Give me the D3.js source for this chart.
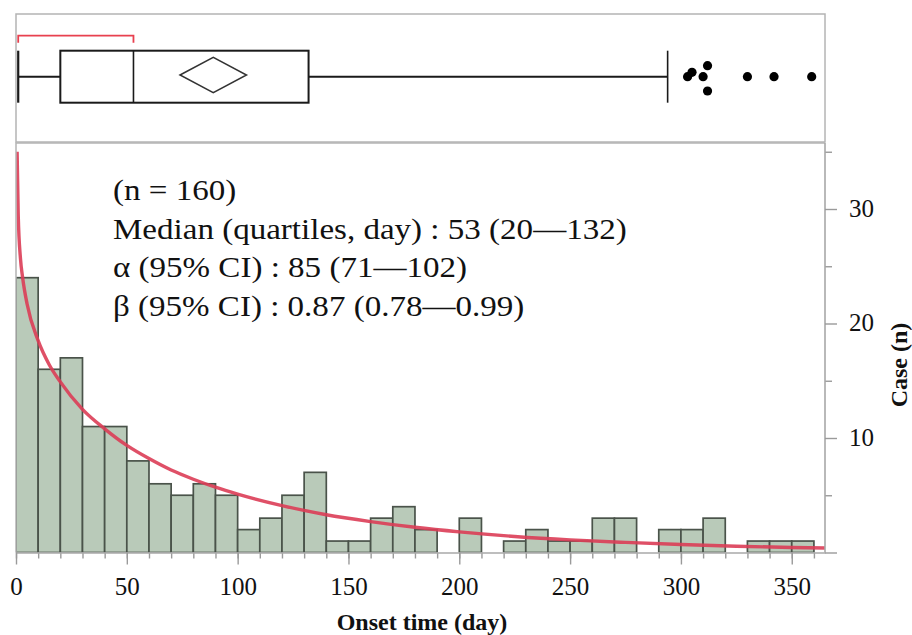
<!DOCTYPE html>
<html>
<head>
<meta charset="utf-8">
<script src="https://cdn.jsdelivr.net/npm/d3@7"></script>
<style>
body { margin: 0; background: #fff; }
svg text { font-family: "Liberation Serif", "Times New Roman", serif; fill: #111; }
</style>
</head>
<body>
<div id="chart"></div>
<script>
// histogram: 10-day bins, case counts
var binStarts = [0,10,20,30,40,50,60,70,80,90,100,110,120,130,140,150,160,170,180,190,
                 200,210,220,230,240,250,260,270,280,290,300,310,320,330,340,350];
var binCounts = [24,16,17,11,11,8,6,5,6,5,2,3,5,7,1,1,3,4,2,0,
                 3,0,1,2,1,1,3,3,0,2,2,3,0,1,1,1];

// fitted curve (expected cases per bin)
var curveDays   = [0.5, 1, 2, 3, 5, 10, 15, 20, 30, 40, 50, 60, 70, 80, 90, 100, 120, 140,
                   160, 180, 200, 225, 250, 275, 300, 325, 350, 365];
var curveCounts = [35, 29.5, 25.7, 24, 21.7, 18.5, 16.4, 14.9, 12.5, 10.8, 9.35, 8.2, 7.2, 6.4,
                   5.7, 5.1, 4.1, 3.3, 2.7, 2.2, 1.8, 1.4, 1.1, 0.88, 0.7, 0.55, 0.44, 0.39];

// box plot summary (days)
var boxMin = 1, boxQ1 = 20, boxMedian = 53, boxQ3 = 132, boxWhiskerHi = 294;
var meanDay = 89, meanLo = 74, meanHi = 104;
var shortestHalf = [1, 53];
var outliers = [303, 305, 310, 312, 312, 330, 342, 359];
var outlierLane = [0, -0.4, 0, -1, 1.3, 0, 0, 0];

// axis ticks
var xMajorTicks = [0, 50, 100, 150, 200, 250, 300, 350];
var xMinorTicks = d3.range(0, 361, 10);
var yMajorTicks = [0, 10, 20, 30];
var yMinorTicks = [5, 15, 25, 35];

// stats text
var statLines = [
  "(n = 160)",
  "Median (quartiles, day) : 53 (20\u2014132)",
  "\u03b1 (95% CI) : 85 (71\u2014102)",
  "\u03b2 (95% CI) : 0.87 (0.78\u20140.99)"
];

var W = 912, H = 635;
var left = 16, right = 825;
var boxTop = 14, boxBottom = 142;
var plotTop = 143, plotBottom = 552.5;

var svg = d3.select("#chart").append("svg")
  .attr("width", W).attr("height", H);

var x = d3.scaleLinear().domain([0, 365]).range([left, right]);
var y = d3.scaleLinear().domain([0, 35]).range([plotBottom, plotBottom - 35 * 11.45]);

// ---- box plot panel ----
svg.append("rect")
  .attr("x", left).attr("y", boxTop)
  .attr("width", right - left).attr("height", boxBottom - boxTop)
  .attr("fill", "none").attr("stroke", "#b4b4b4").attr("stroke-width", 1.5);

var midY = 76.7, bh = 26;
var bp = svg.append("g").attr("stroke", "#1a1a1a").attr("fill", "none");

bp.append("line")
  .attr("x1", x(boxMin)).attr("x2", x(boxQ1)).attr("y1", midY).attr("y2", midY)
  .attr("stroke-width", 2);
bp.append("line")
  .attr("x1", x(boxQ3)).attr("x2", x(boxWhiskerHi)).attr("y1", midY).attr("y2", midY)
  .attr("stroke-width", 2);
bp.append("line")
  .attr("x1", x(boxMin)).attr("x2", x(boxMin)).attr("y1", midY - bh).attr("y2", midY + bh)
  .attr("stroke-width", 2.2);
bp.append("line")
  .attr("x1", x(boxWhiskerHi)).attr("x2", x(boxWhiskerHi)).attr("y1", midY - bh).attr("y2", midY + bh)
  .attr("stroke-width", 1.6);
bp.append("rect")
  .attr("x", x(boxQ1)).attr("y", midY - bh)
  .attr("width", x(boxQ3) - x(boxQ1)).attr("height", 2 * bh)
  .attr("stroke-width", 2);
bp.append("line")
  .attr("x1", x(boxMedian)).attr("x2", x(boxMedian)).attr("y1", midY - bh).attr("y2", midY + bh)
  .attr("stroke-width", 1.6);

// mean diamond
var dh = 17.7;
bp.append("path")
  .attr("d", "M" + x(meanLo) + "," + (midY - 1.7) +
             "L" + x(meanDay) + "," + (midY - 1.7 - dh) +
             "L" + x(meanHi) + "," + (midY - 1.7) +
             "L" + x(meanDay) + "," + (midY - 1.7 + dh) + "Z")
  .attr("stroke", "#333").attr("stroke-width", 1.5);

// shortest half bracket
svg.append("path")
  .attr("d", "M" + x(shortestHalf[0]) + ",42.7V35.7H" + x(shortestHalf[1]) + "V42.7")
  .attr("fill", "none").attr("stroke", "#e8404f").attr("stroke-width", 1.8);

svg.append("g").selectAll("circle")
  .data(outliers)
  .enter().append("circle")
    .attr("cx", function(d){ return x(d); })
    .attr("cy", function(d, i){ return midY + outlierLane[i] * 11; })
    .attr("r", 4.6)
    .attr("fill", "#000");

// ---- histogram panel ----
svg.append("clipPath").attr("id", "plot-clip")
  .append("rect")
    .attr("x", left).attr("y", plotTop)
    .attr("width", right - left).attr("height", plotBottom - plotTop);

var bars = binStarts.map(function(d, i){ return { start: d, n: binCounts[i] }; })
  .filter(function(d){ return d.n > 0; });

var g = svg.append("g").attr("clip-path", "url(#plot-clip)");

g.selectAll("rect")
  .data(bars)
  .enter().append("rect")
    .attr("x", function(d){ return x(d.start); })
    .attr("y", function(d){ return y(d.n); })
    .attr("width", function(d){ return x(d.start + 10) - x(d.start); })
    .attr("height", function(d){ return y(0) - y(d.n); })
    .attr("fill", "#b9cab9")
    .attr("stroke", "#4a534a")
    .attr("stroke-width", 1.7);

var line = d3.line()
  .x(function(d){ return x(d[0]); })
  .y(function(d){ return y(d[1]); })
  .curve(d3.curveMonotoneX);

g.append("path")
  .datum(curveDays.map(function(d, i){ return [d, curveCounts[i]]; }))
  .attr("d", line)
  .attr("fill", "none")
  .attr("stroke", "#dc3d57")
  .attr("stroke-width", 3.4)
  .attr("stroke-opacity", 0.9);

// panel border: left and top
svg.append("path")
  .attr("d", "M" + left + "," + plotBottom + "V" + plotTop + "H" + right)
  .attr("fill", "none").attr("stroke", "#b4b4b4").attr("stroke-width", 1.5);

// x axis
var xMinor = d3.axisBottom(x).tickValues(xMinorTicks).tickSize(6).tickSizeOuter(0).tickFormat("");
var xMajor = d3.axisBottom(x).tickValues(xMajorTicks).tickSize(12).tickSizeOuter(0).tickPadding(13)
  .tickFormat(d3.format("d"));

svg.append("g")
  .attr("transform", "translate(0," + plotBottom + ")")
  .call(xMinor)
  .call(function(s){ s.select(".domain").remove(); })
  .selectAll("line").attr("stroke", "#9a9a9a").attr("stroke-width", 1.4);

var xg = svg.append("g")
  .attr("transform", "translate(0," + plotBottom + ")")
  .call(xMajor);
xg.select(".domain").attr("stroke", "#a8a8a8").attr("stroke-width", 1.6);
xg.selectAll("line").attr("stroke", "#9a9a9a").attr("stroke-width", 1.4);
xg.selectAll("text")
  .attr("font-size", "25px")
  .attr("fill", "#111");

// y axis (right)
var yMinor = d3.axisRight(y).tickValues(yMinorTicks).tickSize(7).tickSizeOuter(0).tickFormat("");
var yMajor = d3.axisRight(y).tickValues(yMajorTicks).tickSize(12).tickSizeOuter(0).tickPadding(12)
  .tickFormat(function(d){ return d === 0 ? "" : d; });

svg.append("g")
  .attr("transform", "translate(" + right + ",0)")
  .call(yMinor)
  .call(function(s){ s.select(".domain").remove(); })
  .selectAll("line").attr("stroke", "#9a9a9a").attr("stroke-width", 1.4);

var yg = svg.append("g")
  .attr("transform", "translate(" + right + ",0)")
  .call(yMajor);
yg.select(".domain")
  .attr("d", "M0," + plotTop + "V" + plotBottom)
  .attr("stroke", "#a8a8a8").attr("stroke-width", 1.6);
yg.selectAll("line").attr("stroke", "#9a9a9a").attr("stroke-width", 1.4);
yg.selectAll("text")
  .attr("font-size", "25px")
  .attr("fill", "#111")
  .attr("dy", "0.28em");

// axis titles
svg.append("text")
  .attr("x", (335 + 509) / 2).attr("y", 630)
  .attr("text-anchor", "middle")
  .attr("font-size", "24px").attr("font-weight", "bold")
  .text("Onset time (day)");

svg.append("text")
  .attr("transform", "translate(907,365) rotate(-90)")
  .attr("text-anchor", "middle")
  .attr("font-size", "24px").attr("font-weight", "bold")
  .text("Case (n)");

// stats annotation
var st = svg.append("g").attr("transform", "translate(113,200) scale(1.12,1)");
st.selectAll("text")
  .data(statLines)
  .enter().append("text")
    .attr("x", 0)
    .attr("y", function(d, i){ return i * 38.7; })
    .attr("font-size", "29.5px")
    .text(function(d){ return d; });
</script>
</body>
</html>
